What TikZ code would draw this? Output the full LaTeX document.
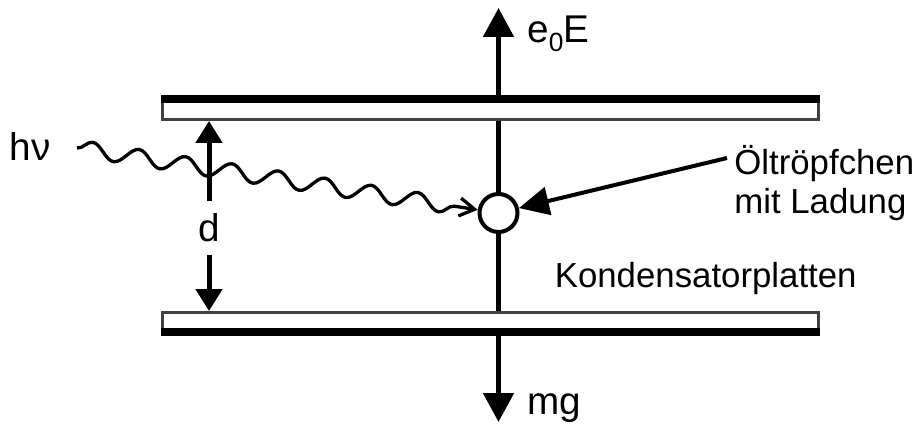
\documentclass[tikz,border=0pt]{standalone}
\usepackage{fontspec}
\setmainfont{Liberation Sans}
\usetikzlibrary{arrows.meta,decorations.pathmorphing}
\begin{document}
\begin{tikzpicture}[x=0.02cm, y=-0.02cm,
  plate/.style={draw=black!75, line width=0.06cm},
  bar/.style={fill=black},
  stem/.style={line width=0.1cm},
  force/.style={stem, -{Triangle[length=0.58cm,width=0.6cm]}},
  dim/.style={stem, -{Triangle[length=0.44cm,width=0.52cm]}},
  pointer/.style={line width=0.08cm, -{Triangle[length=0.6cm,width=0.56cm]}},
  photon/.style={line width=0.066cm, -{Straight Barb[length=0.3cm,width=0.36cm]},
    decorate, decoration={snake, segment length=0.94cm, amplitude=0.16cm, post length=0.3cm}},
  drop/.style={circle, draw, fill=white, line width=0.08cm, minimum size=0.76cm, inner sep=0pt},
  sym/.style={font=\fontsize{22}{26}\selectfont, inner sep=0pt},
  txt/.style={font=\fontsize{19.8}{22}\selectfont, inner sep=0pt}]
  \useasboundingbox (0,0) rectangle (916,428);
  \draw[plate] (162.5,101.5) rectangle (818.5,119.5);
  \fill[bar] (161,95) rectangle (820,103);
  \draw[plate] (162.5,312.5) rectangle (818.5,330);
  \fill[bar] (161,328) rectangle (820,336);
  \coordinate (topin) at (498.5,121);
  \coordinate (topout) at (498.5,95);
  \coordinate (botin) at (498.5,311);
  \coordinate (botout) at (498.5,336);
  \coordinate (eE) at (498.5,8);
  \coordinate (mg) at (498.5,422);
  \node[drop] (drop) at (498.5,213) {};
  \draw[stem] (topin) -- (drop) -- (botin);
  \draw[force] (topout) -- (eE);
  \draw[force] (botout) -- (mg);
  \node[sym, anchor=base west] (eElbl) at (527,43) {e\raisebox{-5pt}{\fontsize{15}{15}\selectfont 0}E};
  \node[sym, anchor=base west] (mglbl) at (527,415) {mg};
  \node[sym, anchor=base west] (hv) at (9.5,161) {hν};
  \coordinate (wave) at (77,148);
  \draw[photon] (wave) -- (drop);
  \node[sym, inner ysep=0.25cm] (d) at (209,228) {d};
  \coordinate (dtop) at (209,121);
  \coordinate (dbot) at (209,311);
  \draw[dim] (d) -- (dtop);
  \draw[dim] (d) -- (dbot);
  \node[txt, anchor=base west] (plates) at (554.5,288) {Kondensatorplatten};
  \node[txt, align=left, anchor=north west] (oel) at (734,145) {Öltröpfchen\\mit Ladung};
  \coordinate (ptr) at (727,158);
  \draw[pointer] (ptr) -- (drop);
\end{tikzpicture}
\end{document}
